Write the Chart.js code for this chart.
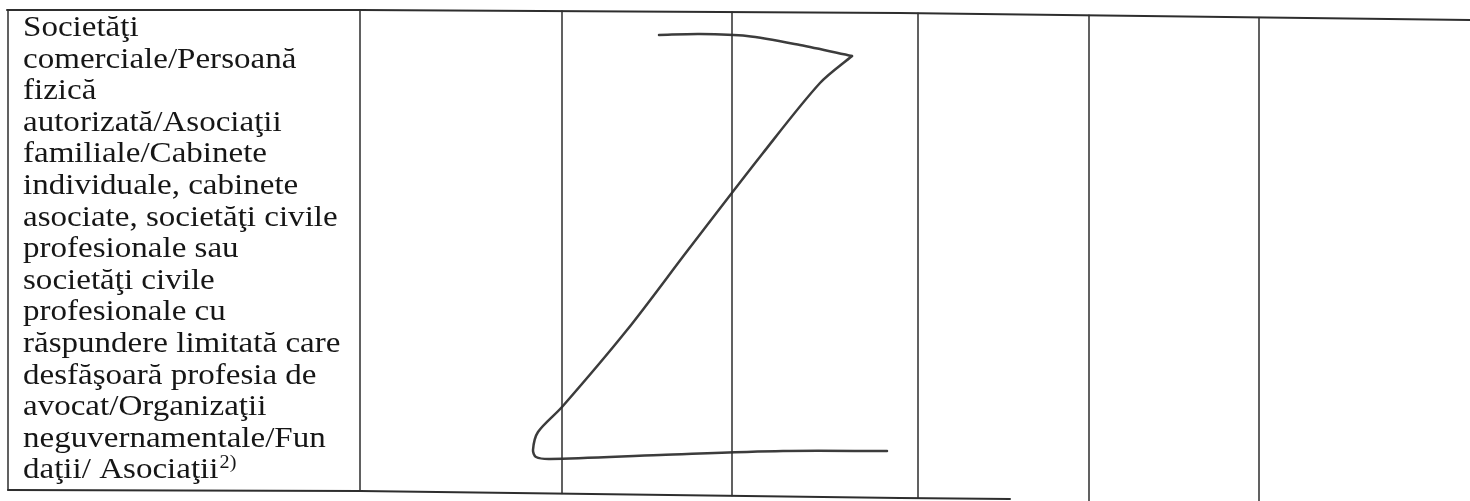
<!DOCTYPE html>
<html>
<head>
<meta charset="utf-8">
<script src="https://cdn.jsdelivr.net/npm/chart.js@4.4.1/dist/chart.umd.min.js"></script>
<style>
  html, body { margin: 0; padding: 0; background: #ffffff; }
  #wrap { width: 1470px; height: 501px; }
</style>
</head>
<body>
<div id="wrap"><canvas id="myChart" width="1470" height="501"></canvas></div>
<script>
// cell text, one entry per printed line
const textLines = [
  'Societăţi',
  'comerciale/Persoană',
  'fizică',
  'autorizată/Asociaţii',
  'familiale/Cabinete',
  'individuale, cabinete',
  'asociate, societăţi civile',
  'profesionale sau',
  'societăţi civile',
  'profesionale cu',
  'răspundere limitată care',
  'desfăşoară profesia de',
  'avocat/Organizaţii',
  'neguvernamentale/Fun',
  'daţii/ Asociaţii'
];
const footnoteMark = '2)';

// table rules (page coordinates)
const columnX = [8, 360, 562, 732, 918, 1089, 1259];
const topBorderX = [7, 360, 900, 1470];
const topBorderY = [10, 10, 13, 20];
const bottomBorderX = [8, 360, 900, 1010];
const bottomBorderY = [490, 491, 498, 499];

// handwritten "Z" stroke
const zTopX = [659, 700, 747, 800, 852];
const zTopY = [35, 34, 36, 45, 56];
const zDiagX = [852, 820, 763, 688, 627, 562, 538, 533, 536, 550, 660, 783, 887];
const zDiagY = [56, 83, 153, 250, 330, 407, 432, 450, 457, 459, 455, 451, 451];

function pts(xs, ys) {
  return xs.map((x, i) => ({ x: x, y: ys[i] }));
}
function interp(xs, ys, x) {
  if (x <= xs[0]) return ys[0];
  for (let i = 1; i < xs.length; i++) {
    if (x <= xs[i]) {
      const t = (x - xs[i - 1]) / (xs[i] - xs[i - 1]);
      return ys[i - 1] + t * (ys[i] - ys[i - 1]);
    }
  }
  return null;
}

const ruleColor = '#2e2e2e';
const datasets = [];

datasets.push({ data: pts(topBorderX, topBorderY), borderColor: ruleColor, borderWidth: 2 });
datasets.push({ data: pts(bottomBorderX, bottomBorderY), borderColor: ruleColor, borderWidth: 2 });

columnX.forEach(cx => {
  const y0 = interp(topBorderX, topBorderY, cx);
  let y1 = interp(bottomBorderX, bottomBorderY, cx);
  if (y1 === null) y1 = 501;
  datasets.push({ data: [{ x: cx, y: y0 }, { x: cx, y: y1 }], borderColor: ruleColor, borderWidth: 1.5 });
});

datasets.push({ data: pts(zTopX, zTopY), borderColor: '#3c3c3c', borderWidth: 2.5, tension: 0.3 });
datasets.push({ data: pts(zDiagX, zDiagY), borderColor: '#3c3c3c', borderWidth: 2.5, tension: 0.3 });

const cellText = {
  id: 'cellText',
  afterDatasetsDraw: (chart, args, opts) => {
    const { ctx, scales: { x, y } } = chart;
    const family = '"Liberation Serif", "Times New Roman", serif';
    const px = x.getPixelForValue(opts.left);
    ctx.save();
    ctx.fillStyle = opts.color;
    ctx.textBaseline = 'alphabetic';
    // the scan is a little wider than the font, stretch horizontally
    ctx.translate(px, 0);
    ctx.scale(opts.stretch, 1);
    ctx.font = opts.size + 'px ' + family;
    let lastEnd = 0;
    textLines.forEach((line, i) => {
      const py = y.getPixelForValue(opts.firstBaseline + i * opts.lineStep);
      ctx.fillText(line, 0, py);
      lastEnd = ctx.measureText(line).width;
    });
    // superscript footnote on the last line
    ctx.font = opts.supSize + 'px ' + family;
    const lastBase = opts.firstBaseline + (textLines.length - 1) * opts.lineStep;
    ctx.fillText(footnoteMark, lastEnd + 1, y.getPixelForValue(lastBase - 10));
    ctx.restore();
  }
};

const config = {
  type: 'scatter',
  data: { datasets: datasets },
  options: {
    responsive: false,
    animation: false,
    layout: { padding: 0 },
    showLine: true,
    elements: {
      point: { radius: 0, hoverRadius: 0 },
      line: { fill: false, borderCapStyle: 'round', borderJoinStyle: 'round' }
    },
    scales: {
      x: { type: 'linear', min: 0, max: 1470, display: false },
      y: { type: 'linear', min: 0, max: 501, reverse: true, display: false }
    },
    plugins: {
      legend: { display: false },
      tooltip: { enabled: false },
      cellText: {
        color: '#161616',
        size: 29.5,
        stretch: 1.12,
        supSize: 18,
        left: 23,
        firstBaseline: 36,
        lineStep: 31.6
      }
    }
  },
  plugins: [cellText]
};

var myChart = new Chart(document.getElementById('myChart'), config);
</script>
</body>
</html>
